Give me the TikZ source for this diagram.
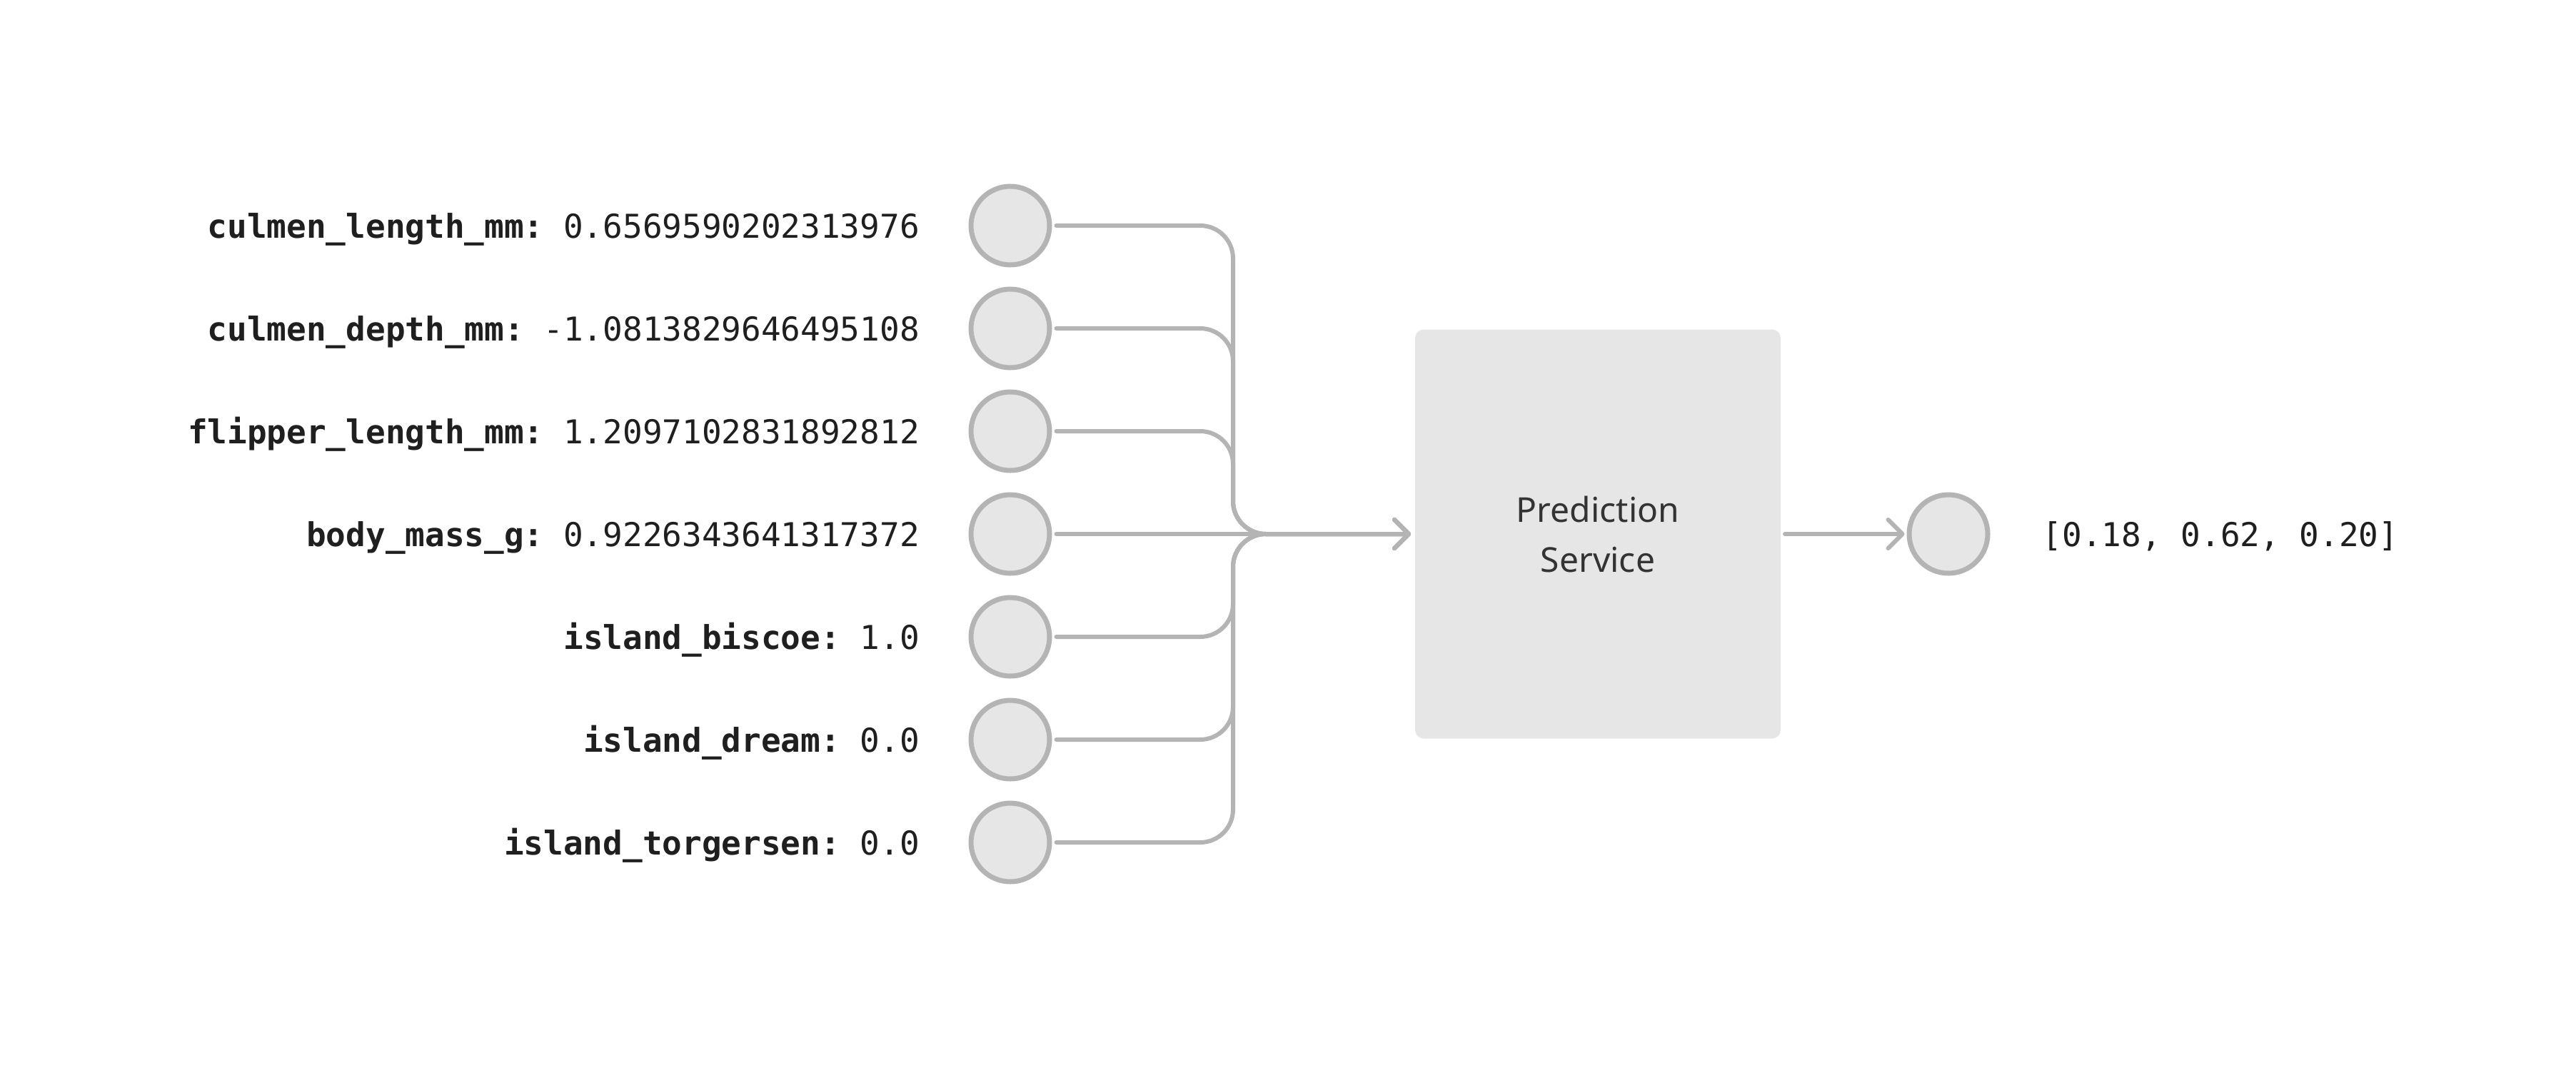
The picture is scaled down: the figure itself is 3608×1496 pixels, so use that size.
\documentclass[tikz,border=0pt]{standalone}
\usepackage{fontspec}
\setmonofont{DejaVu Sans Mono}
\newfontfamily\boxfont{Noto Sans}
\usetikzlibrary{arrows.meta}
\definecolor{linegray}{HTML}{B4B4B4}
\definecolor{fillgray}{HTML}{E6E6E6}
\definecolor{labeltext}{HTML}{1F1F1F}
\definecolor{boxtext}{HTML}{333333}
\tikzset{
  feat/.style={circle, draw=linegray, fill=fillgray, line width=7pt, minimum size=110pt, inner sep=0pt},
  lbl/.style={anchor=base east, inner sep=0pt, text=labeltext, font=\ttfamily\fontsize{46}{55}\selectfont},
  outlbl/.style={anchor=base, inner sep=0pt, text=labeltext, font=\ttfamily\fontsize{46}{55}\selectfont},
  svc/.style={fill=fillgray, rounded corners=12pt, minimum width=512pt, minimum height=573pt, inner sep=0pt, outer sep=0pt, align=center, text=boxtext, font=\boxfont\fontsize{48}{70}\selectfont},
  conn/.style={draw=linegray, line width=6pt, line cap=round, line join=round, rounded corners=46pt},
  arr/.style={conn, -{Straight Barb[length=20pt, width=40pt, line cap=round, line join=round]}},
}
\begin{document}
\begin{tikzpicture}[x=1pt,y=-1pt]
\useasboundingbox (0,0) rectangle (3608,1496);
% input circles
\node[feat] (c1) at (1415,316) {};
\node[feat] (c2) at (1415,460) {};
\node[feat] (c3) at (1415,604) {};
\node[feat] (c4) at (1415,748) {};
\node[feat] (c5) at (1415,892) {};
\node[feat] (c6) at (1415,1036) {};
\node[feat] (c7) at (1415,1180) {};
% labels
\node[lbl] (l1) at (1288,333) {\textbf{culmen\_length\_mm:} 0.6569590202313976};
\node[lbl] (l2) at (1288,477) {\textbf{culmen\_depth\_mm:} -1.0813829646495108};
\node[lbl] (l3) at (1288,621) {\textbf{flipper\_length\_mm:} 1.2097102831892812};
\node[lbl] (l4) at (1288,765) {\textbf{body\_mass\_g:} 0.9226343641317372};
\node[lbl] (l5) at (1288,909) {\textbf{island\_biscoe:} 1.0};
\node[lbl] (l6) at (1288,1053) {\textbf{island\_dream:} 0.0};
\node[lbl] (l7) at (1288,1197) {\textbf{island\_torgersen:} 0.0};
% service box
\node[svc] (ps) at (2238,748) {Prediction\\Service};
% output
\node[feat] (out) at (2729,748) {};
\node[outlbl] (res) at (3110,765) {[0.18, 0.62, 0.20]};
% bus
\coordinate (bus) at (1727,748);
% connectors
\foreach \i in {1,2,3,5,6,7}{
  \draw[arr, shorten <=6pt, shorten >=6pt] (c\i.east) -| (bus) -- (ps.west);
}
\draw[arr, shorten <=6pt, shorten >=6pt] (c4.east) -- (ps.west);
\draw[arr, shorten <=6pt, shorten >=3pt] (ps.east) -- (out.west);
\end{tikzpicture}
\end{document}
